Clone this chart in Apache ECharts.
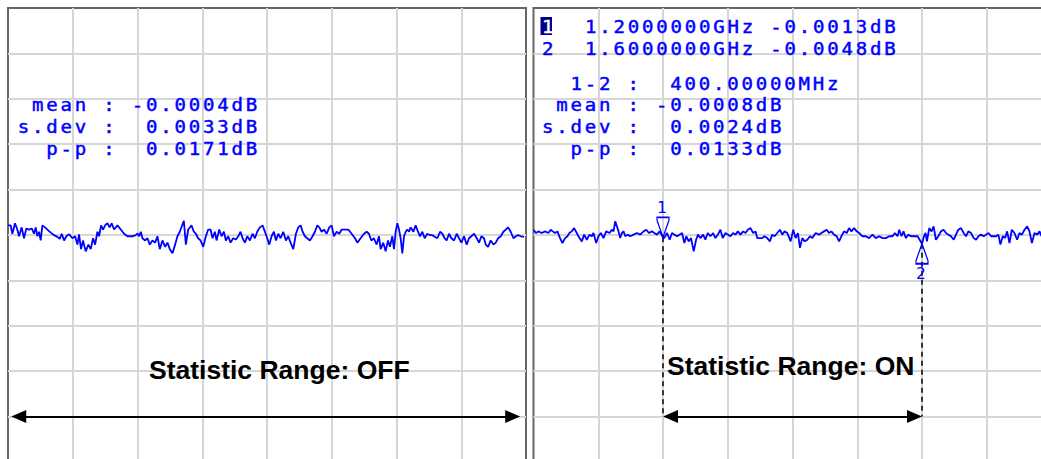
<!DOCTYPE html>
<html>
<head>
<meta charset="utf-8">
<title>Statistic Range</title>
<script src="https://cdn.jsdelivr.net/npm/echarts@6/dist/echarts.min.js"></script>
<style>
  html, body { margin: 0; padding: 0; background: #fff; }
  #chart { width: 1041px; height: 459px; }
  /* analyzer readout: fixed-pitch, widely spaced characters */
  #chart text { white-space: pre; }
  #chart text[style*="Mono"] { letter-spacing: 2.5px; }
</style>
</head>
<body>
<div id="chart"></div>
<script>
// Sweep: 1.0 GHz .. 1.8 GHz, 100 MHz / div
const sweepMHz = [1000, 1800];
const freqDivMHz = 100;
// Scale: 0.025 dB / div, reference at centre
const dbRange = [-0.125, 0.125];
const dbDiv = 0.025;

// Markers (right trace)
const markerFreqMHz = [1200, 1600];
const markerDb = [-0.0013, -0.0048];

// Level at which the range arrows are drawn
const rangeArrowDb = -0.1;
// Full-span arrow tips (left trace)
const fullRangeMHz = [1005, 1791];

// Statistics readouts
const statsOff = { mean: -0.0004, sdev: 0.0033, pp: 0.0171 };
const statsOn  = { mean: -0.0008, sdev: 0.0024, pp: 0.0133 };

// Trace with statistic range OFF: [frequency MHz, dB]
const traceOff = [
  [1000,0.0053],[1004.1,0.0053],[1006.7,0.0007],[1010.8,0.0065],[1014.4,0.0030],[1017,-0.0007],[1021.1,0.0042],[1024.7,-0.0018],[1028.3,0.0036],[1032.5,0.0030],
  [1036.6,0.0036],[1040.2,0.0007],[1042.8,0.0042],[1045.3,-0.0007],[1047.9,0.0018],[1050.5,-0.0030],[1053.1,0.0053],[1057.2,0.0042],[1060.8,0.0030],[1066,0.0013],
  [1071.1,-0.0001],[1076.3,-0.0010],[1079.9,-0.0021],[1083,0.0007],[1086.6,-0.0030],[1090.2,-0.0007],[1094.3,0.0004],[1099.4,-0.0018],[1103.6,-0.0007],[1107.2,-0.0053],
  [1109.7,0.0004],[1112.8,-0.0078],[1115.9,-0.0030],[1120,-0.0090],[1124.2,-0.0053],[1127.8,-0.0078],[1131.4,-0.0018],[1134.5,-0.0053],[1138.1,0.0018],[1140.7,-0.0007],
  [1143.7,0.0053],[1146.8,0.0030],[1149.9,0.0053],[1153.5,0.0065],[1157.1,0.0042],[1160.2,0.0065],[1163.8,0.0030],[1169,0.0053],[1174.2,0.0030],[1179.3,0.0007],
  [1184.5,-0.0007],[1192.2,-0.0007],[1197.3,-0.0001],[1199.9,0.0008],[1202.5,-0.0007],[1205.1,0.0018],[1207.6,-0.0018],[1211.8,-0.0030],[1215.4,-0.0018],[1219,-0.0053],
  [1223.1,-0.0030],[1227.2,-0.0042],[1230.8,-0.0007],[1234.4,-0.0078],[1238.5,-0.0030],[1242.7,-0.0065],[1246.3,-0.0042],[1249.9,-0.0078],[1254,-0.0101],[1258.1,-0.0053],
  [1261.7,-0.0007],[1265.3,0.0018],
  [1271.6,0.0078],[1274.7,-0.0053],[1278.3,0.0030],[1283.4,0.0053],[1287,0.0018],[1290.1,0.0007],[1293.7,-0.0018],[1297.3,-0.0030],[1301.5,-0.0065],[1305.6,-0.0007],
  [1309.2,0.0030],[1312.8,0.0030],[1315.9,-0.0018],[1319.5,0.0018],[1322.1,-0.0030],[1326.2,0.0030],[1329.8,-0.0007],[1333.4,0.0018],[1336.5,-0.0030],[1340.1,-0.0007],
  [1343.7,-0.0042],[1347.8,-0.0018],[1352,-0.0025],[1355.6,-0.0007],[1359.2,0.0018],[1362.3,-0.0018],[1365.9,-0.0042],[1369.5,-0.0007],[1373.6,-0.0030],[1377.7,0.0007],
  [1381.3,-0.0018],[1384.9,0.0018],[1389,0.0042],[1393.2,0.0053],[1396.8,0.0018],[1400.4,-0.0018],[1403.5,-0.0053],[1407.1,-0.0007],[1410.7,0.0018],[1413.8,-0.0030],
  [1417.4,0.0007],[1421,-0.0018],[1425.1,0.0018],[1429.2,-0.0030],[1432.8,-0.0007],[1436.4,-0.0042],[1440.6,-0.0078],[1444.7,0.0007],[1448.3,0.0042],[1451.9,0.0053],
  [1455,0.0018],[1458.6,-0.0007],[1462.2,-0.0018],[1466.3,-0.0030],[1470.4,-0.0007],[1474,0.0018],[1477.7,0.0053],[1480.8,0.0042],[1484.4,0.0018],[1488,0.0030],
  [1492.1,0.0007],[1496.2,0.0042],[1499.8,0.0053],[1503.4,-0.0007],[1507.5,0.0018],[1511.7,0.0007],[1515.3,0.0030],[1520.4,0.0030],[1525.6,0.0030],[1530.7,0.0007],
  [1535.9,-0.0018],
  [1539.5,-0.0042],[1544.6,-0.0018],[1549.8,0.0007],[1553.9,0.0018],[1557.5,0.0007],[1561.1,-0.0030],[1565.2,-0.0018],[1569.3,-0.0053],[1572.9,-0.0007],[1575.5,-0.0078],
  [1579.6,-0.0042],[1583.2,-0.0090],[1586.9,-0.0030],[1589.9,-0.0065],[1593.5,-0.0007],[1596.1,-0.0078],[1598.7,0.0018],[1601.3,0.0065],[1603.9,0.0030],[1606.4,-0.0018],
  [1609,-0.0101],[1611.6,-0.0007],[1614.2,0.0018],[1616.7,0.0030],[1619.3,0.0018],[1621.9,0.0042],[1626,0.0018],[1629.6,0.0053],[1633.2,0.0018],[1636.3,-0.0007],
  [1639.9,0.0018],[1643.5,-0.0018],[1647.6,0.0007],[1651.8,-0.0001],[1655.4,-0.0001],[1659,-0.0010],[1663.1,-0.0018],[1667.2,0.0018],[1670.8,0.0007],[1674.4,-0.0018],
  [1677.5,-0.0030],[1681.1,0.0007],[1684.7,-0.0018],[1688.9,-0.0030],[1693,0.0007],[1696.6,-0.0018],[1700.2,-0.0042],[1704.3,-0.0007],[1708.4,-0.0053],[1712,-0.0018],
  [1715.6,-0.0007],[1719.8,0.0007],[1723.9,-0.0018],[1727.5,-0.0042],[1731.1,-0.0007],[1735.2,-0.0018],[1737.8,-0.0053],[1741.4,-0.0065],[1745.5,-0.0030],[1749.7,-0.0053],
  [1753.3,-0.0042],[1756.9,-0.0018],[1761,-0.0007],[1765.1,0.0018],[1768.7,0.0030],[1772.3,0.0042],[1776.4,0.0018],[1780.6,-0.0018],[1784.2,-0.0007],[1787.8,-0.0001],
  [1791.9,-0.0007],[1797,-0.0010]
];

// Trace with statistic range ON: [frequency MHz, dB]
const traceOn = [
  [1000,0.0029],[1003.9,0.0011],[1007.5,0.0020],[1012.7,0.0011],[1017.8,0.0020],[1023,0.0011],[1026.6,0.0029],[1029.7,0.0020],[1033.3,0.0011],[1036.9,0.0020],
  [1041,-0.0017],[1044.7,-0.0044],[1048.8,-0.0017],[1052.4,-0.0007],[1055.5,0.0011],[1059.1,0.0020],[1062.7,0.0038],[1066.8,0.0011],[1071,-0.0017],[1074.6,-0.0035],
  [1078.2,0.0002],[1082.3,-0.0026],[1086.4,0.0002],[1090.1,-0.0007],[1092.6,0.0011],[1096.8,-0.0044],[1100.4,-0.0007],[1104,0.0011],[1108.1,-0.0017],[1112.2,0.0020],
  [1117.4,0.0011],[1121,0.0029],[1123.6,0.0020],[1126.2,0.0075],[1128.8,0.0048],[1131.3,0.0020],[1133.9,-0.0017],[1136.5,0.0011],[1139.1,0.0020],[1141.7,-0.0007],
  [1145.3,0.0002],[1149.4,-0.0007],[1154.6,0.0002],[1159.7,0.0011],[1164.9,0.0002],[1170,0.0020],[1174.2,0.0029],[1178.3,0.0011],[1182.9,0.0020],[1186.6,0.0011],
  [1190.7,0.0002],[1194.8,0.0020],[1200,-0.0013],[1202,-0.0017],[1206.2,0.0011],[1210.3,-0.0026],[1213.9,0.0011],[1217.5,0.0002],[1221.6,-0.0007],[1225.8,0.0002],
  [1229.4,0.0011],[1233,-0.0044],[1236.1,-0.0007],[1239.7,-0.0035],[1243.3,-0.0017],[1247.4,-0.0090],[1251.1,-0.0026],[1254.1,0.0002],[1257.8,-0.0017],[1261.9,0.0002],
  [1265.5,-0.0026],[1269.1,0.0011],[1273.2,-0.0007],[1277.4,0.0011],[1281,-0.0017],[1284.6,0.0002],[1288.7,0.0029],[1292.3,-0.0017],[1296.5,0.0011],[1300.1,0.0002],
  [1304.2,-0.0007],[1308.3,0.0011],[1311.9,0.0002],[1315.6,0.0020],[1319.7,0.0002],[1323.8,0.0020],[1327.4,0.0011],[1331,0.0029],[1335.2,0.0038],[1339.3,0.0011],
  [1342.9,0.0020],[1345.5,-0.0017],[1349.6,-0.0017],[1353.2,-0.0017],[1356.8,-0.0007],[1361,-0.0017],[1365.1,-0.0035],[1368.7,0.0002],[1372.3,-0.0007],[1376.4,0.0011],
  [1380.6,0.0029],[1384.2,0.0002],[1387.8,0.0020],[1391.9,0.0011],
  [1397.1,-0.0035],[1401.2,0.0029],[1404.8,-0.0017],[1408.4,0.0011],[1411.5,-0.0071],[1415.1,-0.0017],[1418.8,-0.0035],[1422.9,-0.0026],
  [1427,-0.0007],[1430.6,-0.0017],[1435.8,0.0011],[1440.9,0.0002],[1444.6,0.0011],[1448.7,0.0020],[1452.8,0.0029],[1456.4,0.0011],[1460,0.0020],[1464.2,0.0002],
  [1468.3,-0.0007],[1471.9,-0.0035],[1475.5,-0.0007],[1479.6,0.0020],[1483.8,0.0011],[1487.4,0.0038],[1491,0.0020],[1495.1,0.0038],[1499.2,0.0020],[1502.9,0.0011],
  [1508,-0.0007],[1513.2,-0.0007],[1518.3,-0.0017],[1523.5,0.0002],[1528.7,-0.0017],[1533.8,-0.0007],[1539,-0.0017],[1544.1,-0.0017],[1549.3,-0.0007],[1554.5,-0.0007],
  [1558.1,0.0011],[1562.2,-0.0007],[1564.8,0.0029],[1568.4,-0.0007],[1571.5,0.0020],[1575.1,-0.0017],[1578.7,0.0002],[1582.8,-0.0007],[1588,-0.0007],[1593.2,-0.0007],
  [1600,-0.0048],[1603,-0.0007],[1605.5,0.0011],[1607.6,-0.0035],[1611.2,0.0038],[1614.8,0.0020],[1617.9,0.0048],[1621.5,-0.0026],[1625.2,-0.0007],[1629.3,0.0020],
  [1633.4,0.0029],[1637,0.0011],[1640.6,0.0002],[1644.8,-0.0007],[1648.9,-0.0026],[1652.5,0.0002],[1656.1,0.0029],[1660.2,0.0038],[1664.4,0.0011],[1668,-0.0007],
  [1671.6,0.0020],[1675.7,0.0011],[1679.8,-0.0017],[1683.5,-0.0026],[1687.1,-0.0007],[1691.2,0.0002],[1695.3,-0.0007],[1698.9,0.0002],[1702.6,0.0011],[1706.7,-0.0007],
  [1710.8,-0.0007],[1714.4,-0.0007],[1718,0.0002],[1721.1,-0.0053],[1724.7,-0.0007],[1728.4,-0.0017],[1731.4,0.0020],[1735.1,-0.0044],[1738.7,0.0029],[1742.8,0.0011],
  [1746.9,-0.0026],[1750.5,0.0011],[1754.2,0.0002],[1758.3,0.0029],[1762.4,0.0048],[1766,0.0020],[1769.7,-0.0044],[1773.8,0.0011],[1777.9,0.0002],[1781.5,0.0020],
  [1784.6,-0.0007]
];

const captions = ['Statistic Range: OFF', 'Statistic Range: ON'];

// ---- layout & styling ----
const PANEL_LEFT = [8, 533.5];
const PANEL_TOP = 8;
const PANEL_W = 518;
const PANEL_H = 454;
const TRACE = '#0000ff';
const TEXT_BLUE = '#0000ff';
const MONO = '17px "DejaVu Sans Mono"';
const MONO_SCALE = 1.12;
const ADV = 14.3;            // character pitch of the readout
const LINE_Y = [105, 127, 148.5];
const HEAD_LEN = 15;         // arrow head length, px
const HEAD_W = 13;

const fmtDb = v => (v < 0 ? '-' : ' ') + Math.abs(v).toFixed(4);
const statLines = s => [
  ' mean : ' + fmtDb(s.mean) + 'dB',
  's.dev : ' + fmtDb(s.sdev) + 'dB',
  '  p-p : ' + fmtDb(s.pp) + 'dB'
];

function monoText(x, y, text, fill) {
  const c = fill || TEXT_BLUE;
  return {
    type: 'text', x: x, y: y, z: 100, silent: true, scaleX: MONO_SCALE,
    style: { text: text, fill: c, stroke: c, lineWidth: 0.45, font: MONO,
             textAlign: 'left', textVerticalAlign: 'middle', align: 'left', verticalAlign: 'middle' }
  };
}
function captionText(x, y, text) {
  return {
    type: 'text', x: x, y: y, z: 100, silent: true,
    style: { text: text, fill: '#000', font: 'bold 26.5px "Liberation Sans"',
             textAlign: 'left', textVerticalAlign: 'middle', align: 'left', verticalAlign: 'middle' }
  };
}

const graphics = [];
// left readout
statLines(statsOff).forEach((t, i) => graphics.push(monoText(17.8, LINE_Y[i], t)));
// right readout: marker table
const RX = 542;
graphics.push({ type: 'rect', z: 99, silent: true, shape: { x: 540.5, y: 17, width: 11.5, height: 18 },
                style: { fill: '#00008b' } });
markerFreqMHz.forEach((f, i) => {
  const y = [26.5, 49][i];
  graphics.push(monoText(RX, y, String(i + 1), i === 0 ? '#ffffff' : TEXT_BLUE));
  graphics.push(monoText(RX + 3 * ADV, y,
    (f / 1000).toFixed(7) + 'GHz ' + fmtDb(markerDb[i]).trim() + 'dB'));
});
graphics.push(monoText(RX, 83.5, '  1-2 :  ' + (markerFreqMHz[1] - markerFreqMHz[0]).toFixed(5) + 'MHz'));
statLines(statsOn).forEach((t, i) => graphics.push(monoText(RX, LINE_Y[i], t)));
// captions
graphics.push(captionText(149, 370, captions[0]));
graphics.push(captionText(667, 366, captions[1]));

const grids = PANEL_LEFT.map(l => ({
  left: l, top: PANEL_TOP, width: PANEL_W, height: PANEL_H, show: true,
  outerBoundsMode: 'none', containLabel: false,
  borderColor: '#666666', borderWidth: 2, backgroundColor: '#ffffff'
}));
const split = { show: true, showMinLine: false, showMaxLine: false,
                lineStyle: { color: '#d6d6d6', width: 2 } };
const xAxes = [0, 1].map(i => ({
  type: 'value', gridIndex: i, min: sweepMHz[0], max: sweepMHz[1], interval: freqDivMHz,
  axisLine: { show: false }, axisTick: { show: false }, axisLabel: { show: false }, splitLine: split
}));
const yAxes = [0, 1].map(i => ({
  type: 'value', gridIndex: i, min: dbRange[0], max: dbRange[1], interval: dbDiv,
  axisLine: { show: false }, axisTick: { show: false }, axisLabel: { show: false }, splitLine: split
}));

// arrow heads are centred on the line ends, so pull the ends in by half a head
const halfHeadMHz = (HEAD_LEN / 2) * (sweepMHz[1] - sweepMHz[0]) / PANEL_W;
const arrowLine = (a, b) => [{ coord: [a + halfHeadMHz, rangeArrowDb] }, { coord: [b - halfHeadMHz, rangeArrowDb] }];
const arrowStyle = {
  silent: true, symbol: ['triangle', 'triangle'], symbolSize: [HEAD_W, HEAD_LEN],
  label: { show: false }, lineStyle: { color: '#000', width: 2, type: 'solid' },
  emphasis: { disabled: true }
};

const markerSym = [
  'path://M0,0 L12,0 L12,3 L6,20 L0,3 Z',
  'path://M6,0 L12,17 L12,20 L0,20 L0,17 Z'
];

const option = {
  animation: false,
  grid: grids,
  xAxis: xAxes,
  yAxis: yAxes,
  graphic: graphics,
  series: [
    {
      type: 'line', xAxisIndex: 0, yAxisIndex: 0, data: traceOff,
      showSymbol: false, silent: true, clip: true,
      lineStyle: { color: TRACE, width: 1.8 },
      markLine: Object.assign({}, arrowStyle, { data: [arrowLine(fullRangeMHz[0], fullRangeMHz[1])] })
    },
    {
      type: 'line', xAxisIndex: 1, yAxisIndex: 1, data: traceOn,
      showSymbol: false, silent: true, clip: true,
      lineStyle: { color: TRACE, width: 1.8 },
      markLine: Object.assign({}, arrowStyle, {
        data: [arrowLine(markerFreqMHz[0], markerFreqMHz[1])]
      })
    },
    {
      // marker drop lines
      type: 'line', xAxisIndex: 1, yAxisIndex: 1, data: [], silent: true,
      markLine: {
        silent: true, symbol: 'none', label: { show: false },
        lineStyle: { color: '#000', width: 1.5, type: [5, 4] },
        emphasis: { disabled: true },
        data: markerFreqMHz.map((f, i) => [{ coord: [f, markerDb[i]] }, { coord: [f, rangeArrowDb] }])
      }
    },
    {
      // marker symbols
      type: 'line', xAxisIndex: 1, yAxisIndex: 1, data: [], silent: true, z: 5,
      markPoint: {
        silent: true,
        data: markerFreqMHz.map((f, i) => ({
          coord: [f, markerDb[i]],
          symbol: markerSym[i], symbolSize: [12, 20], symbolKeepAspect: false,
          symbolOffset: [0, i === 0 ? -10 : 10],
          itemStyle: { color: 'rgba(255,255,255,0)', borderColor: TRACE, borderWidth: 1.5 },
          label: { show: true, formatter: String(i + 1), position: i === 0 ? 'top' : 'bottom',
                   distance: 1, color: TEXT_BLUE, fontFamily: 'DejaVu Sans Mono', fontSize: 16 }
        }))
      }
    }
  ]
};

const chart = echarts.init(document.getElementById('chart'), null, { renderer: 'svg' });
chart.setOption(option);
</script>
</body>
</html>
